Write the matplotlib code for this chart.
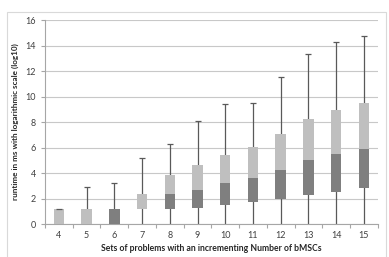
import numpy as np
import matplotlib
matplotlib.use('Agg')
import matplotlib.pyplot as plt
from matplotlib.patches import Rectangle

# box plot values (stacked-bar style box plot)
sets = ['4', '5', '6', '7', '8', '9', '10', '11', '12', '13', '14', '15']
low = [0, 0, 0, 0, 0, 0, 0, 0, 0, 0, 0, 0]
q1 = [0, 0, 0, 1.2, 1.2, 1.23, 1.52, 1.73, 1.96, 2.25, 2.51, 2.85]
median = [0, 0, 1.2, 1.2, 2.38, 2.69, 3.19, 3.58, 4.26, 5.0, 5.46, 5.88]
q3 = [1.2, 1.2, 1.2, 2.33, 3.84, 4.6, 5.41, 6.07, 7.03, 8.24, 8.94, 9.47]
high = [1.2, 2.88, 3.2, 5.15, 6.27, 8.1, 9.39, 9.47, 11.53, 13.33, 14.3, 14.77]

q1 = np.array(q1)
median = np.array(median)
q3 = np.array(q3)
x = np.arange(len(sets))

plt.rcParams['font.family'] = ['Lato', 'DejaVu Sans']

fig = plt.figure(figsize=(3.89, 2.57), dpi=100)
ax = fig.add_axes([0.1157, 0.1284, 0.971 - 0.1157, 0.922 - 0.1284])

# outer chart frame (runs off the bottom of the picture)
fig.patches.append(Rectangle((7 / 389, -0.05), 379 / 389, 1.05 - 12 / 257,
                             transform=fig.transFigure, fill=False,
                             edgecolor='#d9d9d9', linewidth=0.8))

# whiskers and caps
ax.vlines(x, low, high, color='#595959', linewidth=0.9, zorder=2)
ax.plot(x, high, linestyle='none', marker='_', markersize=4,
        markeredgewidth=0.9, color='#595959', zorder=4)

# lower (dark) and upper (light) part of the boxes
ax.bar(x, median - q1, bottom=q1, width=0.38, color='#7f7f7f', zorder=3)
ax.bar(x, q3 - median, bottom=median, width=0.38, color='#bfbfbf', zorder=3)

ax.set_xlim(-0.5, len(sets) - 0.5)
ax.set_ylim(0, 16)
ax.set_yticks(range(0, 17, 2))
ax.grid(axis='y', color='#c8c8c8', linewidth=0.8, zorder=0)
ax.set_axisbelow(True)

ax.set_xticks(x)
ax.set_xticklabels(sets)
ax.set_xticks(np.arange(-0.5, len(sets)), minor=True)
ax.tick_params(axis='x', which='major', length=0, pad=5, labelsize=6.5, labelcolor='#404040')
ax.tick_params(axis='x', which='minor', length=3, color='#a6a6a6', width=0.8)
ax.tick_params(axis='y', length=3, color='#a6a6a6', width=0.8, labelsize=6.5,
               labelcolor='#404040', pad=3.5)

for side in ['top', 'right']:
    ax.spines[side].set_visible(False)
ax.spines['left'].set_color('#a6a6a6')
ax.spines['bottom'].set_color('#a6a6a6')

ax.set_xlabel('Sets of problems with an incrementing Number of bMSCs',
              fontsize=6.2, fontweight='bold', color='#262626', labelpad=3)
ax.set_ylabel('runtime in ms with logarithmic scale (log10)',
              fontsize=5.9, fontweight='bold', color='#262626', labelpad=5)

plt.savefig('out.png', dpi=100)
